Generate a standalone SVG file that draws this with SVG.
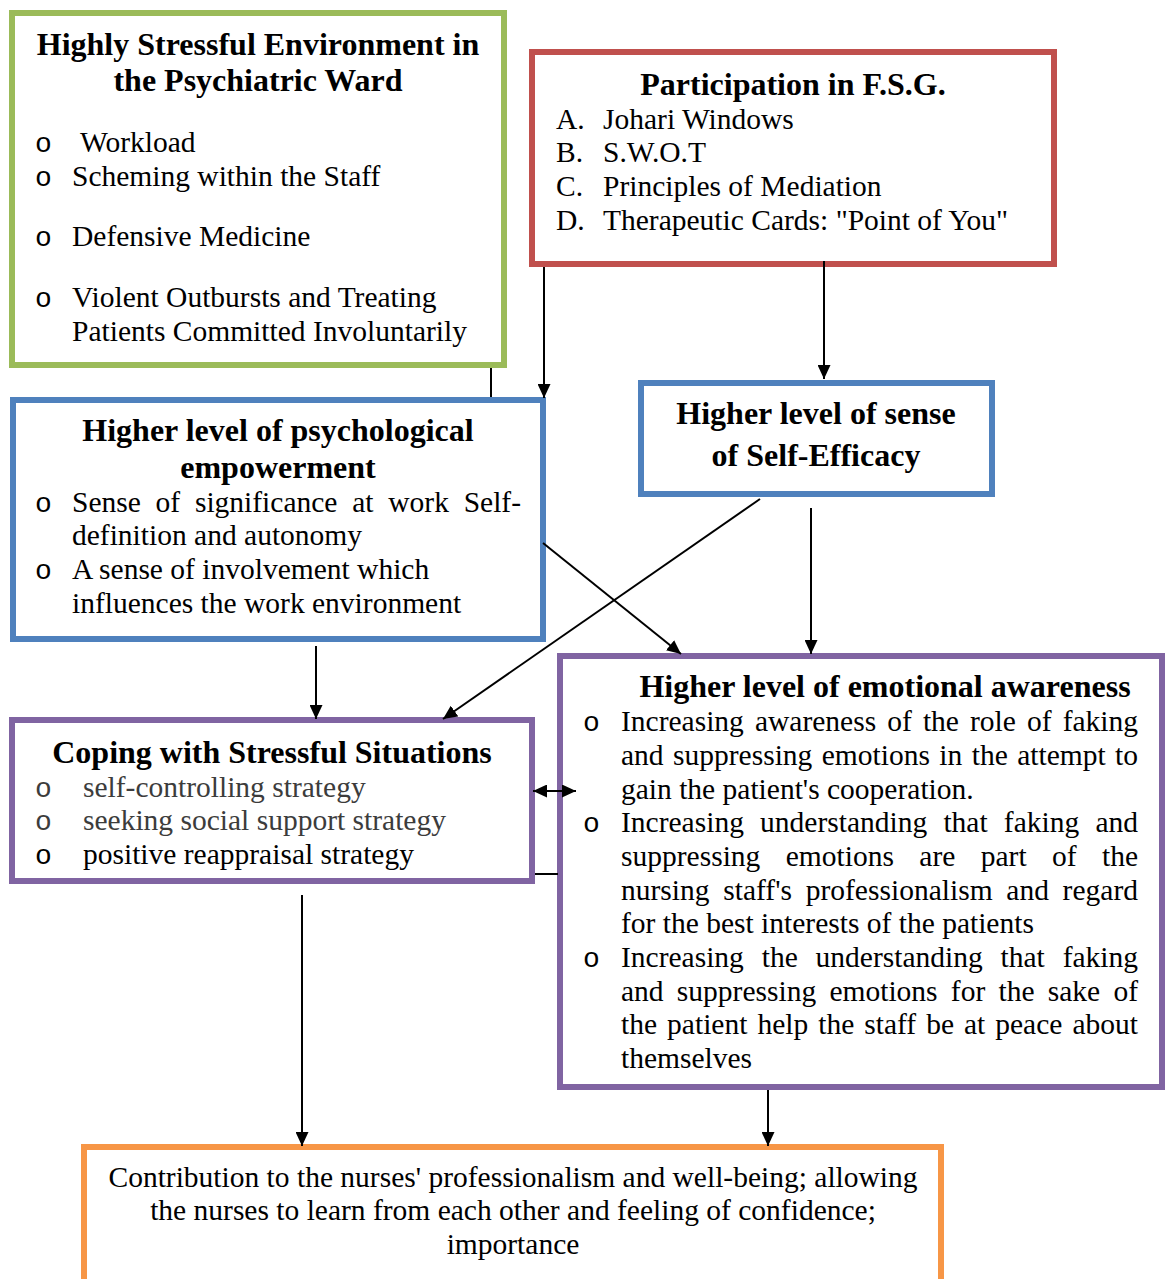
<svg xmlns="http://www.w3.org/2000/svg" width="1165" height="1279" viewBox="0 0 1165 1279">
<defs>
<marker id="ah" markerWidth="14" markerHeight="13" refX="14" refY="6.5" orient="auto-start-reverse" markerUnits="userSpaceOnUse">
<path d="M0,0 L14,6.5 L0,13 Z" fill="#000"/>
</marker>
<style>
text{font-family:"Liberation Serif","Times New Roman",serif;fill:#000}
.t{font-size:32px;font-weight:bold;text-anchor:middle}
.r{font-size:29.5px}
.b{font-size:28px;font-family:"Liberation Mono","Courier New",monospace}
.g{fill:#3c3c3c}
.c{font-size:29.5px;text-anchor:middle}
.box{fill:#fff;stroke-width:6}
.cn{stroke:#000;stroke-width:2;fill:none}
</style>
</defs>
<rect width="1165" height="1279" fill="#fff"/>
<g id="stress-env">
<rect class="box" x="12" y="13" width="492" height="352" stroke="#9BBB59"/>
<text class="t" x="258" y="55">Highly Stressful Environment in</text>
<text class="t" x="258" y="91">the Psychiatric Ward</text>
<text class="b" x="35" y="152">o</text><text class="r" x="80" y="152">Workload</text>
<text class="b" x="35" y="186">o</text><text class="r" x="72" y="186">Scheming within the Staff</text>
<text class="b" x="35" y="246">o</text><text class="r" x="72" y="246">Defensive Medicine</text>
<text class="b" x="35" y="307">o</text><text class="r" x="72" y="307">Violent Outbursts and Treating</text>
<text class="r" x="72" y="341">Patients Committed Involuntarily</text>
</g>
<g id="fsg">
<rect class="box" x="532" y="52" width="522" height="212" stroke="#C0504D"/>
<text class="t" x="793" y="95">Participation in F.S.G.</text>
<text class="r" x="556" y="129">A.</text><text class="r" x="603" y="129">Johari Windows</text>
<text class="r" x="556" y="162">B.</text><text class="r" x="603" y="162">S.W.O.T</text>
<text class="r" x="556" y="196">C.</text><text class="r" x="603" y="196">Principles of Mediation</text>
<text class="r" x="556" y="230">D.</text><text class="r" x="603" y="230">Therapeutic Cards: "Point of You"</text>
</g>
<g id="empowerment">
<rect class="box" x="13" y="400" width="530" height="239" stroke="#4F81BD"/>
<text class="t" x="278" y="441">Higher level of psychological</text>
<text class="t" x="278" y="478">empowerment</text>
<text class="b" x="35" y="512">o</text><text class="r" x="72" y="512" word-spacing="7.4" textLength="449" lengthAdjust="spacing">Sense of significance at work Self-</text>
<text class="r" x="72" y="545">definition and autonomy</text>
<text class="b" x="35" y="579">o</text><text class="r" x="72" y="579">A sense of involvement which</text>
<text class="r" x="72" y="613">influences the work environment</text>
</g>
<g id="self-efficacy">
<rect class="box" x="641" y="383" width="351" height="111" stroke="#4F81BD"/>
<text class="t" x="816" y="424">Higher level of sense</text>
<text class="t" x="816" y="466">of Self-Efficacy</text>
</g>
<g id="coping">
<rect class="box" x="12" y="720" width="520" height="161" stroke="#8064A2"/>
<text class="t" x="272" y="763">Coping with Stressful Situations</text>
<text class="b g" x="35" y="797">o</text><text class="r g" x="83" y="797">self-controlling strategy</text>
<text class="b g" x="35" y="830">o</text><text class="r g" x="83" y="830">seeking social support strategy</text>
<text class="b" x="35" y="864">o</text><text class="r" x="83" y="864">positive reappraisal strategy</text>
</g>
<g id="emotional">
<rect class="box" x="560" y="656" width="602" height="431" stroke="#8064A2"/>
<text class="t" x="885" y="697">Higher level of emotional awareness</text>
<text class="b" x="583" y="731">o</text><text class="r" x="621" y="731" word-spacing="3.7" textLength="517" lengthAdjust="spacing">Increasing awareness of the role of faking</text>
<text class="r" x="621" y="765" word-spacing="2" textLength="517" lengthAdjust="spacing">and suppressing emotions in the attempt to</text>
<text class="r" x="621" y="799">gain the patient's cooperation.</text>
<text class="b" x="583" y="832">o</text><text class="r" x="621" y="832" word-spacing="8.8" textLength="517" lengthAdjust="spacing">Increasing understanding that faking and</text>
<text class="r" x="621" y="866" word-spacing="18" textLength="517" lengthAdjust="spacing">suppressing emotions are part of the</text>
<text class="r" x="621" y="900" word-spacing="6.25" textLength="517" lengthAdjust="spacing">nursing staff's professionalism and regard</text>
<text class="r" x="621" y="933">for the best interests of the patients</text>
<text class="b" x="583" y="967">o</text><text class="r" x="621" y="967" word-spacing="10.45" textLength="517" lengthAdjust="spacing">Increasing the understanding that faking</text>
<text class="r" x="621" y="1001" word-spacing="5.87" textLength="517" lengthAdjust="spacing">and suppressing emotions for the sake of</text>
<text class="r" x="621" y="1034" word-spacing="2.56" textLength="517" lengthAdjust="spacing">the patient help the staff be at peace about</text>
<text class="r" x="621" y="1068">themselves</text>
</g>
<g id="outcome">
<rect class="box" x="84" y="1147" width="857" height="150" stroke="#F79646"/>
<text class="c" x="513" y="1187">Contribution to the nurses' professionalism and well-being; allowing</text>
<text class="c" x="513" y="1220">the nurses to learn from each other and feeling of confidence;</text>
<text class="c" x="513" y="1254">importance</text>
</g>
<g id="connectors">
<line class="cn" x1="491" y1="368" x2="491" y2="397"/>
<line class="cn" x1="544" y1="267" x2="544" y2="398" marker-end="url(#ah)"/>
<line class="cn" x1="824" y1="261" x2="824" y2="379" marker-end="url(#ah)"/>
<line class="cn" x1="543" y1="543" x2="681" y2="654" marker-end="url(#ah)"/>
<line class="cn" x1="760" y1="499" x2="443" y2="719" marker-end="url(#ah)"/>
<line class="cn" x1="811" y1="508" x2="811" y2="654" marker-end="url(#ah)"/>
<line class="cn" x1="316" y1="646" x2="316" y2="719" marker-end="url(#ah)"/>
<line class="cn" x1="533" y1="791" x2="576" y2="791" marker-start="url(#ah)" marker-end="url(#ah)"/>
<line class="cn" x1="535" y1="874" x2="558" y2="874"/>
<line class="cn" x1="302" y1="895" x2="302" y2="1146" marker-end="url(#ah)"/>
<line class="cn" x1="768" y1="1090" x2="768" y2="1146" marker-end="url(#ah)"/>
</g>
</svg>
